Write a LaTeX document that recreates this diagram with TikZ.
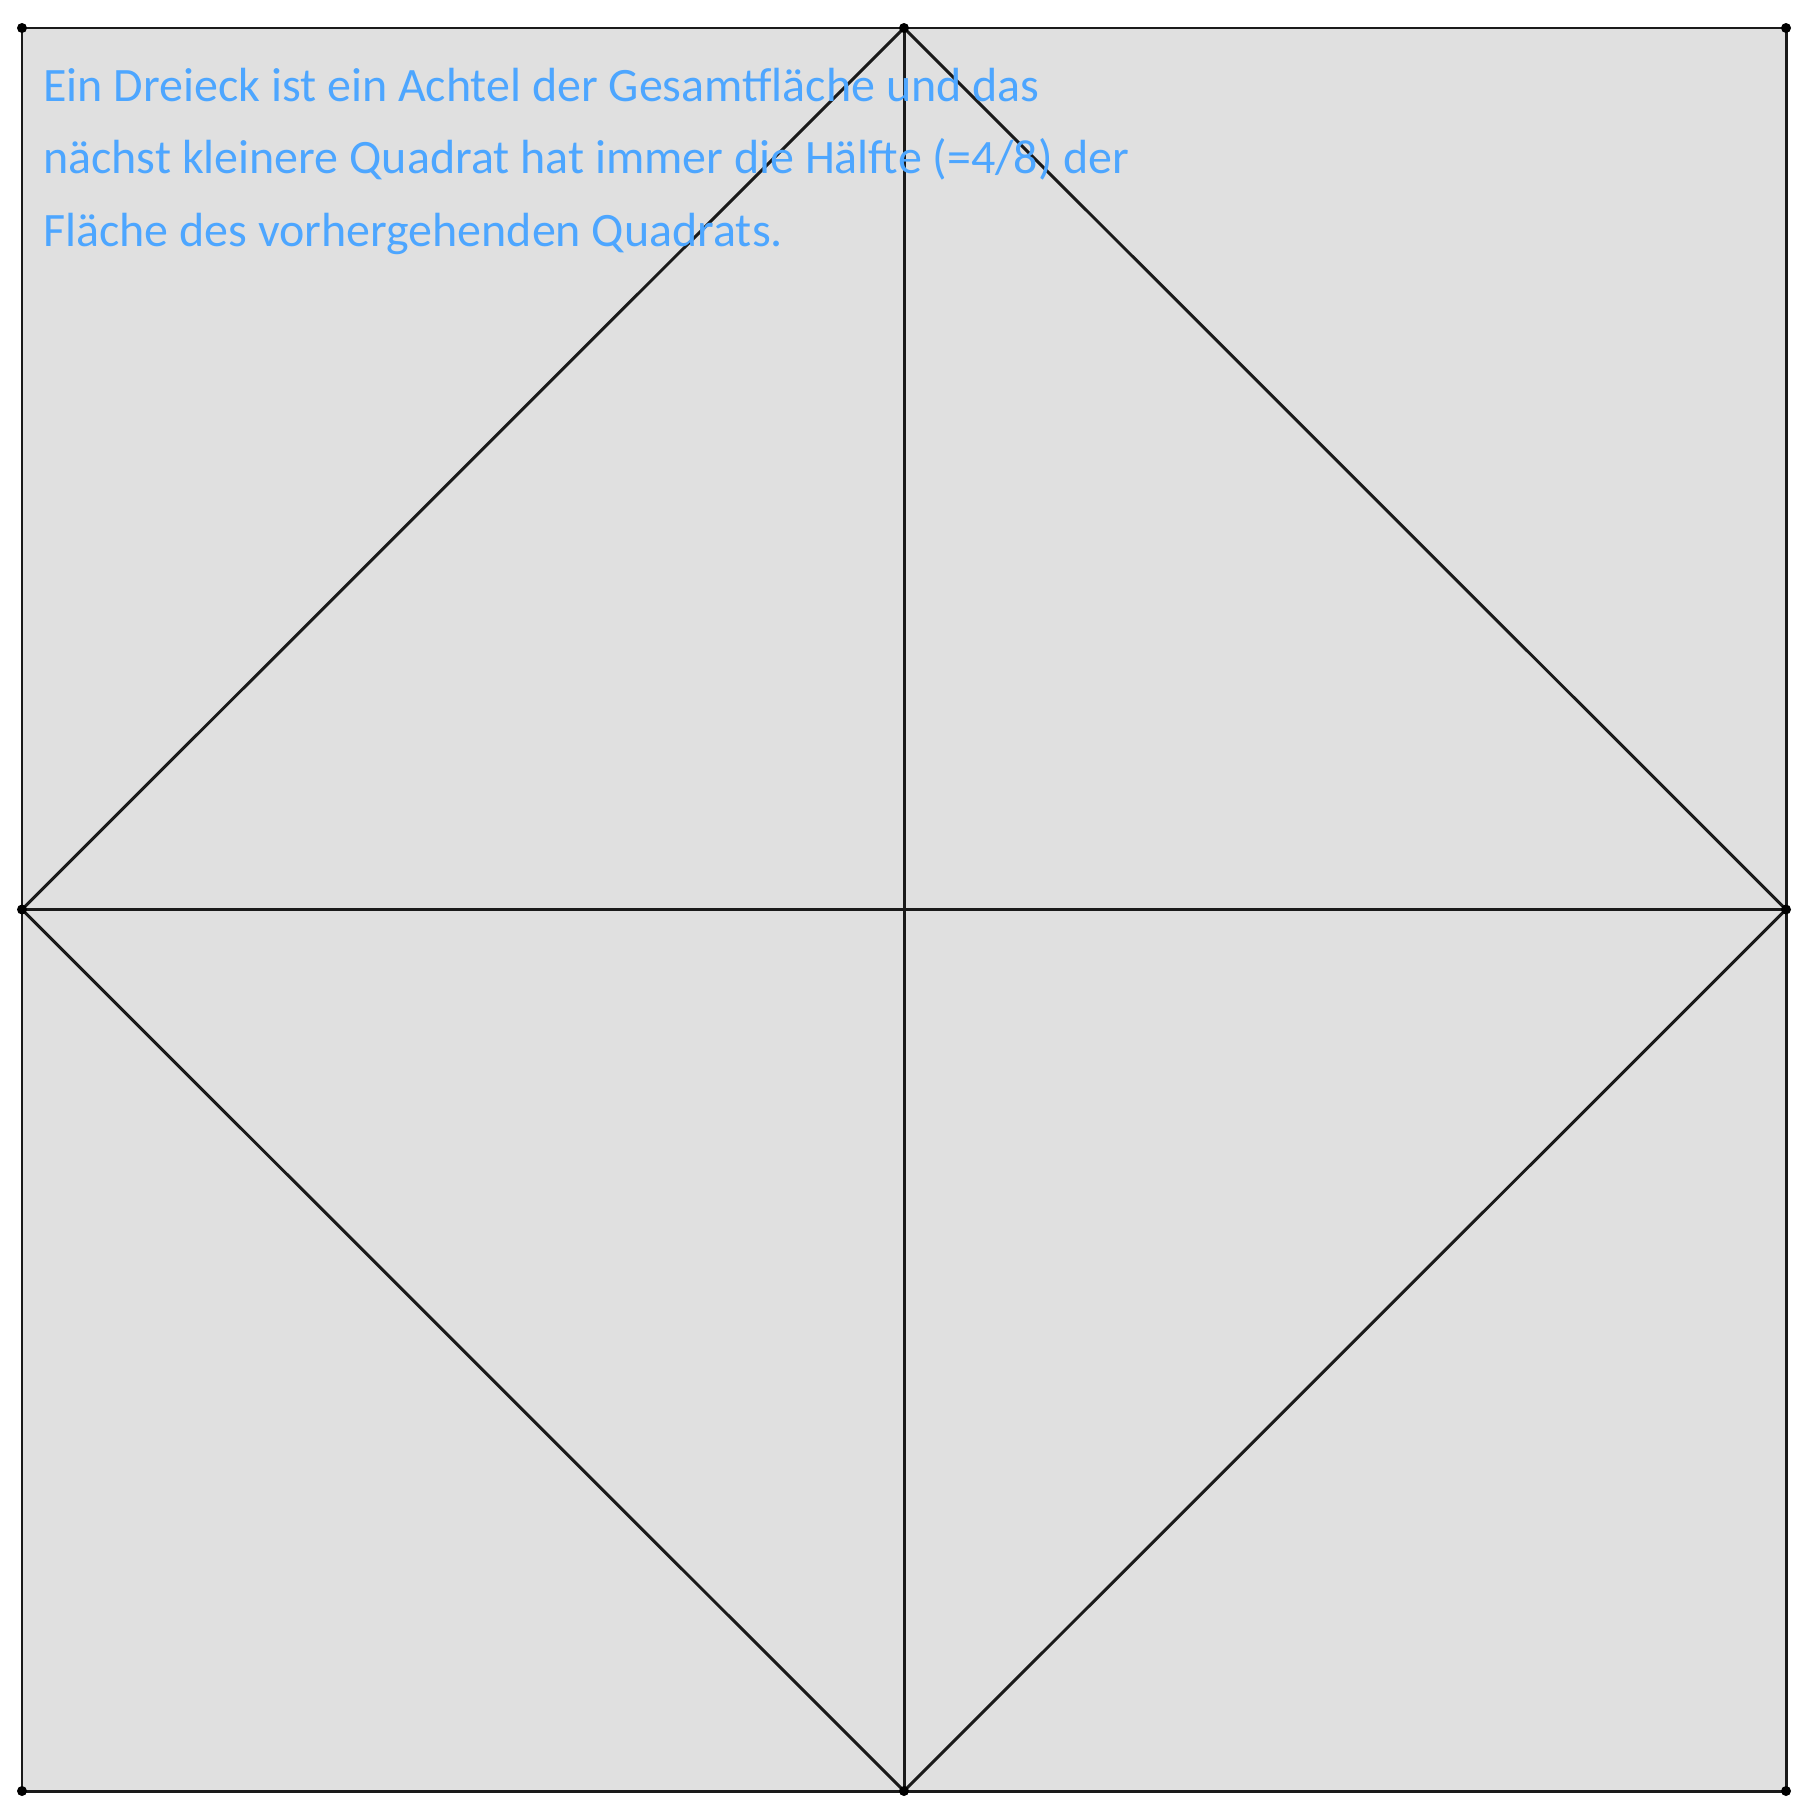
\documentclass[tikz,border=0pt]{standalone}
\usepackage{fontspec}
\setmainfont{Carlito}
\definecolor{Paper}{HTML}{E0E0E0}
\definecolor{Ink}{HTML}{1A1A1A}
\definecolor{Note}{HTML}{4DA6FF}
\begin{document}
\begin{tikzpicture}[
      x=0.02cm,y=-0.02cm,
      edge/.style={draw=Ink,line width=1.7pt,line cap=round},
      dot/.style={fill=black},
      note/.style={text=Note,align=left,inner sep=0pt,
        font=\fontsize{27.3pt}{41pt}\selectfont}
    ]
      \useasboundingbox (0,0) rectangle (1808,1819);
      % corners and midpoints of the big square
      \coordinate (tl) at (22,28);
      \coordinate (tr) at (1786,28);
      \coordinate (bl) at (22,1791);
      \coordinate (br) at (1786,1791);
      \coordinate (tm) at (904,28);
      \coordinate (bm) at (904,1791);
      \coordinate (lm) at (22,909.5);
      \coordinate (rm) at (1786,909.5);
      \fill[Paper] (tl) rectangle (br);
      % outer square, cross and inner square
      \draw[edge] (tl) -- (tr) -- (br) -- (bl) -- cycle;
      \draw[edge] (tm) -- (bm);
      \draw[edge] (lm) -- (rm);
      \draw[edge] (tm) -- (rm) -- (bm) -- (lm) -- cycle;
      \foreach \p in {tl,tr,bl,br,tm,bm,lm,rm}
        \fill[dot] (\p) circle (5);
      % base of the last line
      \node[note,anchor=base west] (hint) at (43,246)
        {Ein Dreieck ist ein Achtel der Gesamtfläche und das\\
         nächst kleinere Quadrat hat immer die Hälfte (=4/8) der\\
         Fläche des vorhergehenden Quadrats.};
    \end{tikzpicture}
\end{document}
